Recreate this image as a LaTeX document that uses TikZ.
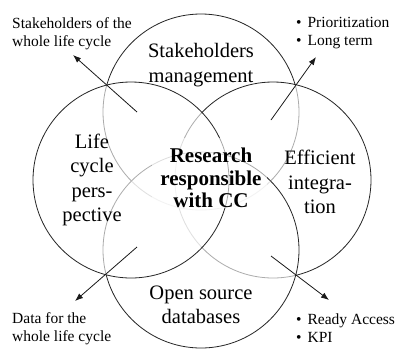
\documentclass[tikz,border=0pt]{standalone}
\usepackage{fontspec}
\setmainfont{Liberation Serif}
\usetikzlibrary{arrows.meta}
\begin{document}
\begin{tikzpicture}[x=1pt,y=-1pt,
  ring/.style={draw=black!85, line width=0.8pt, fill=white, fill opacity=0.62},
  biglabel/.style={align=center, font=\fontsize{20.5}{24.5}\selectfont, inner sep=0pt},
  centerlabel/.style={align=center, font=\fontsize{21}{22.5}\selectfont\bfseries, inner sep=0pt},
  smalllabel/.style={align=left, anchor=west, font=\fontsize{15.5}{18}\selectfont, inner sep=0pt},
  pointer/.style={draw=black!90, line width=0.8pt, -{Latex[length=8pt,width=6pt]}}]
\useasboundingbox (0,0) rectangle (396,349);
\fill[white] (0,0) rectangle (396,349);
% circles (drawn in layering order)
\draw[ring] (201,112) circle[radius=98pt];
\draw[ring] (273,180) circle[radius=98pt];
\draw[ring] (201,250) circle[radius=98pt];
\draw[ring] (131,180) circle[radius=98pt];
% veil behind the central text
\fill[white, fill opacity=0.6] (152,138) rectangle (267,208);
% circle labels
\node[biglabel] (stake) at (201,65) {Stakeholders\\management};
\node[biglabel] (life) at (92,180) {Life\\cycle\\pers-\\pective};
\node[biglabel] (eff) at (320,182) {Efficient\\integra-\\tion};
\node[biglabel] (open) at (201,305) {Open source\\databases};
\node[centerlabel] (core) at (211,178) {Research\\responsible\\with CC};
% outer labels
\node[smalllabel] (tl) at (12,33.5) {Stakeholders of the\\whole life cycle};
\node[smalllabel] (tr) at (296,33.5) {\textbullet\hspace{6pt}Prioritization\\\textbullet\hspace{6pt}Long term};
\node[smalllabel] (bl) at (12,328.5) {Data for the\\whole life cycle};
\node[smalllabel] (br) at (296,328.5) {\textbullet\hspace{6pt}Ready Access\\\textbullet\hspace{6pt}KPI};
% arrows
\coordinate (tlA) at (137,112); \coordinate (tlB) at (73,55);
\coordinate (trA) at (271,120); \coordinate (trB) at (316,57);
\coordinate (blA) at (137,247); \coordinate (blB) at (75,301);
\coordinate (brA) at (271,256); \coordinate (brB) at (329,300);
\draw[pointer] (tlA) -- (tlB);
\draw[pointer] (trA) -- (trB);
\draw[pointer] (blA) -- (blB);
\draw[pointer] (brA) -- (brB);
\end{tikzpicture}
\end{document}
